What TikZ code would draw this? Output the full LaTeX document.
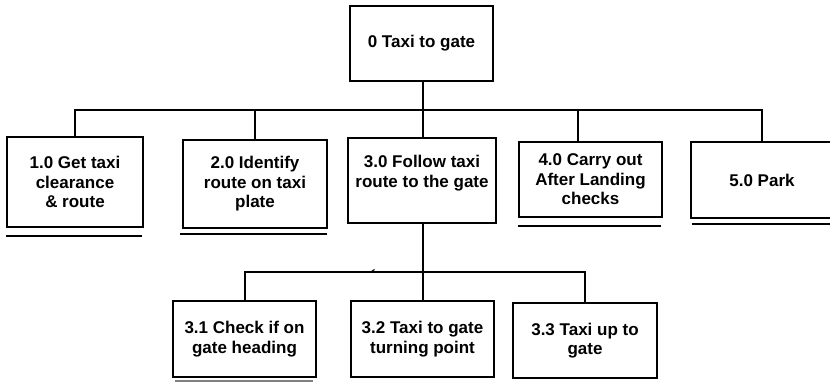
\documentclass[tikz,border=0pt]{standalone}
\usepackage{fontspec}
\setmainfont{Liberation Sans}
\begin{document}
\begin{tikzpicture}[x=1pt,y=-1pt,
  txt/.style={inner sep=0pt, align=center, font=\bfseries\fontsize{17}{19.5}\selectfont},
  box/.style={draw, line width=2pt, txt},
  conn/.style={line width=2pt},
  uline/.style={line width=2.5pt}]
\useasboundingbox (0,0) rectangle (830,382);
% top
\node[box, minimum width=143pt, minimum height=75pt] (t) at (421.5,43.5) {0 Taxi to gate};
% level 1
\node[box, minimum width=136pt, minimum height=90pt] (b1) at (75,182) {1.0 Get taxi\\clearance\\\& route};
\node[box, minimum width=144pt, minimum height=88pt] (b2) at (255,184) {2.0 Identify\\route on taxi\\plate};
\node[box, minimum width=148pt, minimum height=85pt] (b3) at (422,180.5) {};
\node[txt] (b3t) at (422,173) {3.0 Follow taxi\\route to the gate};
\node[box, minimum width=143pt, minimum height=75pt] (b4) at (590.5,179.5) {4.0 Carry out\\After Landing\\checks};
\node[box, minimum width=142pt, minimum height=76pt] (b5) at (762,180) {5.0 Park};
% level 2
\node[box, minimum width=143pt, minimum height=76pt] (c1) at (244.5,339) {3.1 Check if on\\gate heading};
\node[box, minimum width=143pt, minimum height=76pt] (c2) at (422.5,339) {3.2 Taxi to gate\\turning point};
\node[box, minimum width=144pt, minimum height=75pt] (c3) at (585,340.5) {3.3 Taxi up to\\gate};
% junction coordinates
\coordinate (j0) at (423,110.5);
\coordinate (s4) at (578,110.5);
\coordinate (j3) at (423,272);
% level-1 connectors
\draw[conn] (t.south -| j0) -- (j0);
\draw[conn] (b1.north) |- (j0);
\draw[conn] (j0) -| (b5.north);
\draw[conn] (b2.north) -- (b2.north |- j0);
\draw[conn] (b3.north -| j0) -- (j0);
\draw[conn] (s4) -- (s4 |- b4.north);
% level-2 connectors
\draw[conn] (b3.south -| j3) -- (c2.north -| j3);
\draw[conn] (c1.north) |- (j3) -| (c3.north);
\draw[line width=1pt] (370,272.5) -- (374.5,269.5);
% underlines
\draw[uline] (b1.south west) ++(0,8) -- ++(136,0);
\draw[uline] (180,234) -- (327,234);
\draw[uline] (b4.south west) ++(0,8) -- ++(143,0);
\draw[uline] (692,224) -- (836,224);
\draw[uline, gray] (175,381.5) -- (313,381.5);
\end{tikzpicture}
\end{document}
